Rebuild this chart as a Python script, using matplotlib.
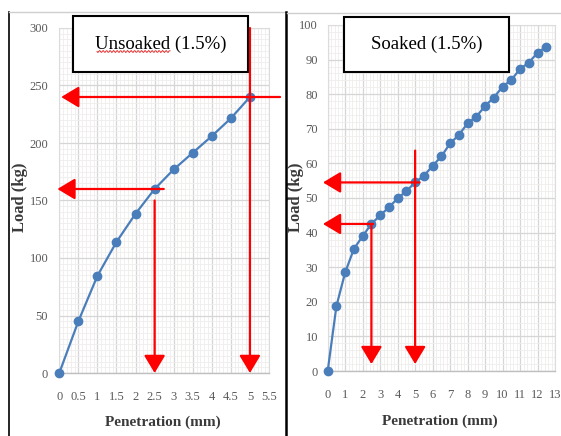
import numpy as np
import matplotlib
matplotlib.use("Agg")
import matplotlib.pyplot as plt
from matplotlib.lines import Line2D
from matplotlib.ticker import MultipleLocator, FixedLocator

plt.rcParams['font.family'] = ['Liberation Serif', 'DejaVu Serif']

# ---- data ----
unsoaked_pen = [0, 0.5, 1, 1.5, 2, 2.5, 3, 3.5, 4, 4.5, 5]
unsoaked_load = [0, 45, 84.5, 114, 138.5, 160, 177, 191.5, 206, 221.5, 240]

soaked_pen = [0, 0.5, 1, 1.5, 2, 2.5, 3, 3.5, 4, 4.5, 5, 5.5, 6, 6.5, 7, 7.5,
              8, 8.5, 9, 9.5, 10, 10.5, 11, 11.5, 12, 12.5]
soaked_load = [0, 18.8, 28.5, 35.3, 39, 42.5, 45, 47.3, 49.9, 52, 54.5, 56.4,
               59.3, 62, 65.8, 68.2, 71.6, 73.5, 76.6, 79, 82.2, 84.1, 87.3,
               89.1, 92, 93.7]

# standard penetrations
read_pen = [2.5, 5.0]

unsoaked_xticks = [0, 0.5, 1, 1.5, 2, 2.5, 3, 3.5, 4, 4.5, 5, 5.5]
unsoaked_xlabels = ['0', '0.5', '1', '1.5', '2', '2.5', '3', '3.5', '4', '4.5', '5', '5.5']
unsoaked_yticks = [0, 50, 100, 150, 200, 250, 300]
soaked_xticks = list(range(0, 14))
soaked_yticks = list(range(0, 101, 10))

BLUE = '#4a7ebb'
RED = '#ff0000'
TICK_GREY = '#595959'
LABEL_GREY = '#3a3a3a'

fig = plt.figure(figsize=(5.61, 4.36), dpi=100)
W, H = 561, 436


def ax_rect(x0, x1, ytop, ybot):
    return [x0 / W, (H - ybot) / H, (x1 - x0) / W, (ybot - ytop) / H]


def style_axes(ax, xmin, ymin):
    ax.xaxis.set_minor_locator(MultipleLocator(xmin))
    ax.yaxis.set_minor_locator(MultipleLocator(ymin))
    ax.grid(which='major', color='#d6d6d6', lw=0.9)
    ax.grid(which='minor', color='#f0eded', lw=0.6)
    ax.set_axisbelow(True)
    for s in ['top', 'right', 'left']:
        ax.spines[s].set_color('#dcdcdc')
        ax.spines[s].set_linewidth(0.8)
    ax.spines['bottom'].set_color('#bfbfbf')
    ax.spines['bottom'].set_linewidth(1.0)
    ax.tick_params(which='both', length=0)
    ax.tick_params(axis='x', pad=13, labelsize=9, labelcolor=TICK_GREY)
    ax.tick_params(axis='y', pad=8, labelsize=9, labelcolor=TICK_GREY)


def arrow(ax, start, tip):
    ax.annotate('', xy=tip, xytext=start,
                arrowprops=dict(arrowstyle='-|>,head_length=0.4,head_width=0.24',
                                mutation_scale=27, lw=1.6, color=RED,
                                shrinkA=0, shrinkB=0),
                annotation_clip=False, zorder=5)


def title_box(px0, px1, py0, py1, text):
    fig.patches.append(plt.Rectangle((px0 / W, (H - py1) / H), (px1 - px0) / W,
                                     (py1 - py0) / H, transform=fig.transFigure,
                                     facecolor='white', edgecolor='black', lw=1.5,
                                     zorder=10))
    fig.text((px0 + px1) / 2 / W, (H - (py0 + py1) / 2) / H, text,
             ha='center', va='center', fontsize=13.5, color='black', zorder=11)


# ---- left panel: unsoaked ----
ax1 = fig.add_axes(ax_rect(59.3, 269, 28, 373))
ax1.plot(unsoaked_pen, unsoaked_load, color=BLUE, lw=1.6, marker='o',
         markersize=6, zorder=4, clip_on=False)
ax1.set_xlim(0, 5.5)
ax1.set_ylim(0, 300)
ax1.xaxis.set_major_locator(FixedLocator(unsoaked_xticks))
ax1.set_xticklabels(unsoaked_xlabels)
ax1.set_yticks(unsoaked_yticks)
style_axes(ax1, 0.1, 5)
ax1.set_xlabel('Penetration (mm)', fontsize=11, fontweight='bold',
               color=LABEL_GREY)
ax1.set_ylabel('Load (kg)', fontsize=12, fontweight='bold',
               color=LABEL_GREY)
ax1.xaxis.set_label_coords((163 - 59.3) / 209.7, -(422 - 373) / 345)
ax1.yaxis.set_label_coords((20 - 59.3) / 209.7, (373 - 197) / 345)
ax1.xaxis.label.set_va('center')
ax1.yaxis.label.set_va('center')

u_read = np.interp(read_pen, unsoaked_pen, unsoaked_load)
# 2.5 mm
arrow(ax1, (2.74, u_read[0]), (-0.05, u_read[0]))
arrow(ax1, (read_pen[0], u_read[0] - 10), (read_pen[0], 0))
# 5.0 mm
arrow(ax1, (5.79, u_read[1]), (0.05, u_read[1]))
arrow(ax1, (read_pen[1], 300), (read_pen[1], 0))

# ---- right panel: soaked ----
ax2 = fig.add_axes(ax_rect(327.7, 555, 25, 371))
ax2.plot(soaked_pen, soaked_load, color=BLUE, lw=1.6, marker='o',
         markersize=6, zorder=4, clip_on=False)
ax2.set_xlim(0, 13)
ax2.set_ylim(0, 100)
ax2.set_xticks(soaked_xticks)
ax2.set_yticks(soaked_yticks)
style_axes(ax2, 0.2, 2)
ax2.tick_params(axis='y', pad=7)
ax2.set_xlabel('Penetration (mm)', fontsize=11, fontweight='bold',
               color=LABEL_GREY)
ax2.set_ylabel('Load (kg)', fontsize=12, fontweight='bold',
               color=LABEL_GREY)
ax2.xaxis.set_label_coords((440 - 327.7) / 227.3, -(421 - 371) / 346)
ax2.yaxis.set_label_coords((296 - 327.7) / 227.3, (371 - 197) / 346)
ax2.xaxis.label.set_va('center')
ax2.yaxis.label.set_va('center')

s_read = np.interp(read_pen, soaked_pen, soaked_load)
arrow(ax2, (2.6, s_read[0]), (-0.27, s_read[0]))
arrow(ax2, (read_pen[0], s_read[0]), (read_pen[0], 2))
arrow(ax2, (5.25, s_read[1]), (-0.27, s_read[1]))
arrow(ax2, (read_pen[1], 63.7), (read_pen[1], 2))

# ---- title boxes ----
title_box(73, 248, 16, 72, 'Unsoaked (1.5%)')
title_box(344, 509, 17, 72, 'Soaked (1.5%)')

# spell-check squiggle under "Unsoaked"
sx = np.linspace(97, 170, 80)
sy = 51.5 + 1.0 * np.sin((sx - 97) * 2 * np.pi / 3.5)
fig.add_artist(Line2D(sx / W, (H - sy) / H, color='#e03030', lw=0.7,
                      transform=fig.transFigure, zorder=12))

# ---- panel frames ----
fig.add_artist(Line2D([9 / W, 9 / W], [0, (H - 12) / H], color='black', lw=1.2,
                      transform=fig.transFigure))
fig.add_artist(Line2D([9 / W, 285 / W], [(H - 12) / H, (H - 12) / H],
                      color='#cfcfcf', lw=1.0, transform=fig.transFigure))
fig.add_artist(Line2D([285.5 / W, 285.5 / W], [0, (H - 12) / H], color='black',
                      lw=1.8, transform=fig.transFigure))
fig.add_artist(Line2D([287 / W, 1], [(H - 13) / H, (H - 13) / H],
                      color='#cfcfcf', lw=1.0, transform=fig.transFigure))

fig.savefig('out.png', dpi=100, facecolor='white')
